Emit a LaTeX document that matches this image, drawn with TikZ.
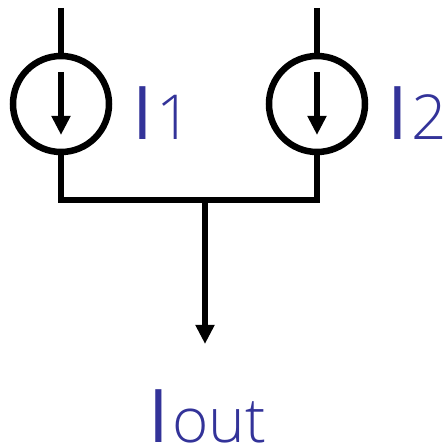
\documentclass[tikz,border=0pt]{standalone}
\usepackage{fontspec}
\newfontfamily\lightfont{Open Sans Light}
\newfontfamily\stemfont{Open Sans}
\usetikzlibrary{arrows.meta, positioning}
\definecolor{labelblue}{HTML}{333399}
\def\biglabel#1#2{{\fontsize{74}{74}\selectfont\stemfont #1}\hspace{3.5pt}{\fontsize{62}{62}\selectfont\lightfont #2}}
\tikzset{
  wire/.style={line width=6.5pt, black},
  flow/.style={wire, -{Triangle[length=19pt, width=18pt]}},
  source/.style={draw, circle, line width=6.5pt, minimum size=96pt, inner sep=0pt, outer sep=0pt},
  currentlabel/.style={text=labelblue, inner sep=0pt, anchor=base west}
}
\begin{document}
\begin{tikzpicture}[x=1pt, y=1pt]
  \useasboundingbox (0,0) rectangle (448,447);
  \def \ya{343}
  \def \yb{247}

  \node[source] (srcA) at (61,\ya) {};
  \node[source] (srcB) at (317,\ya) {};

  \coordinate (topA) at (61,439);
  \coordinate (topB) at (317,439);
  \coordinate (joinA) at (61,\yb);
  \coordinate (joinB) at (317,\yb);
  \coordinate (joinM) at (205,\yb);
  \coordinate (outEnd) at (205,103);
  \coordinate (arrA) at (61,375);
  \coordinate (arrAend) at (61,312);
  \coordinate (arrB) at (317,375);
  \coordinate (arrBend) at (317,312);

  \draw[wire] (topA) -- (srcA.north);
  \draw[wire] (topB) -- (srcB.north);
  \draw[flow] (arrA) -- (arrAend);
  \draw[flow] (arrB) -- (arrBend);
  \draw[wire, line cap=rect] (srcA.south) -- (joinA) -- (joinB) -- (srcB.south);
  \draw[flow] (joinM) -- (outEnd);

  \node[currentlabel] (lblA) at (132,307) {\biglabel{I}{1}};
  \node[currentlabel] (lblB) at (387,307) {\biglabel{I}{2}};
  \node[currentlabel] (lblOut) at (148,4) {\biglabel{I}{out}};
\end{tikzpicture}
\end{document}
